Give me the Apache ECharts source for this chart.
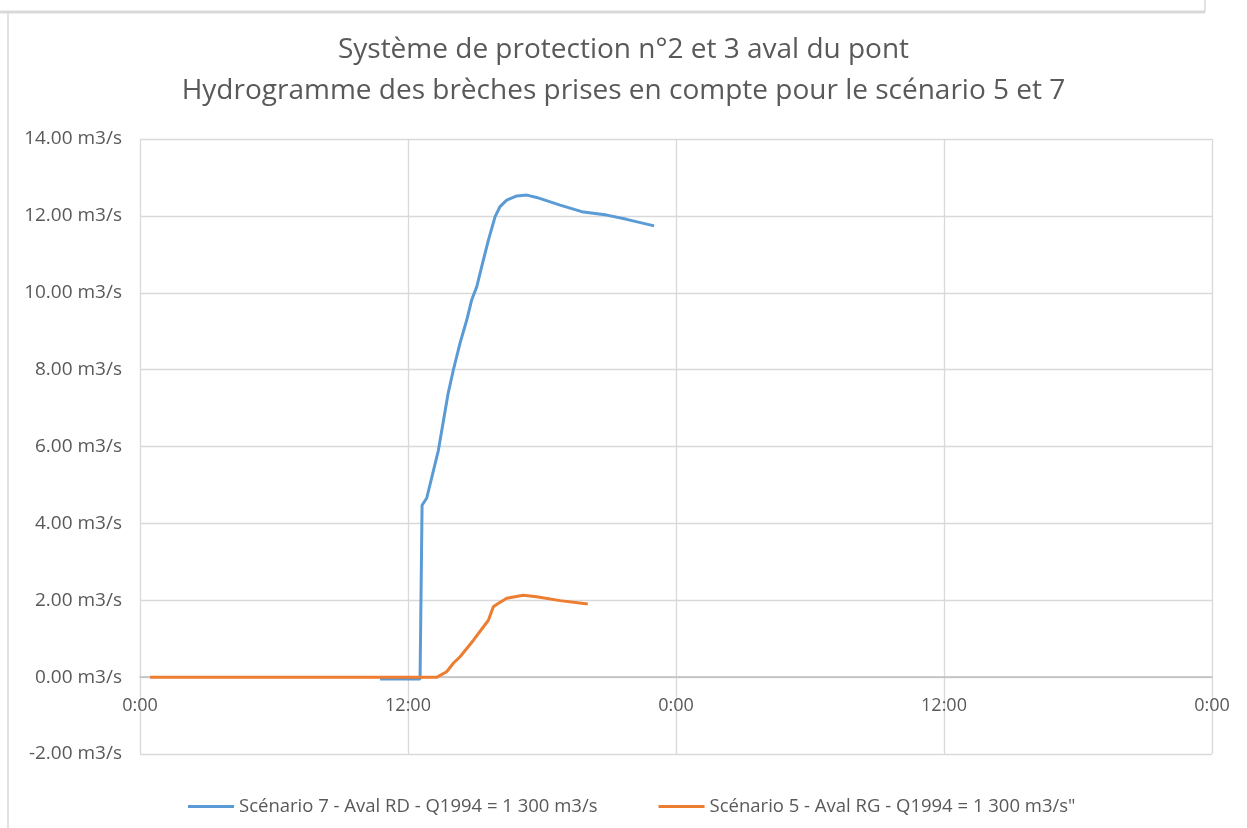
<!DOCTYPE html>
<html>
<head>
<meta charset="utf-8">
<script src="https://cdn.jsdelivr.net/npm/echarts@6/dist/echarts.min.js"></script>
<style>
  html, body { margin: 0; padding: 0; background: #fff; }
  #myChart { width: 1247px; height: 828px; }
</style>
</head>
<body>
<div id="myChart"></div>
<script>
// heures depuis 0:00 et débits (m3/s)
var blueHours = [10.75, 12.54, 12.63, 12.84, 13.36, 13.8, 14.03, 14.33, 14.63, 14.85, 15.08, 15.3, 15.6, 15.9, 16.12, 16.42, 16.87, 17.32, 17.76, 18.81, 19.78, 20.9, 21.79, 23.02];
var blueFlow = [-0.05, -0.05, 4.47, 4.66, 5.9, 7.39, 7.99, 8.69, 9.29, 9.81, 10.16, 10.68, 11.37, 11.98, 12.24, 12.41, 12.52, 12.54, 12.48, 12.28, 12.11, 12.02, 11.91, 11.74];

var orangeHours = [0.45, 13.3, 13.73, 14.03, 14.33, 14.93, 15.6, 15.82, 16.0, 16.42, 17.16, 17.76, 18.81, 20.05];
var orangeFlow = [0, 0, 0.14, 0.36, 0.53, 0.96, 1.48, 1.83, 1.9, 2.05, 2.13, 2.09, 1.99, 1.9];

var seriesNames = ['Scénario 7 - Aval RD - Q1994 = 1 300 m3/s', 'Scénario 5 - Aval RG - Q1994 = 1 300 m3/s"'];
var titleLines = ['Système de protection n°2 et 3 aval du pont', 'Hydrogramme des brèches prises en compte pour le scénario 5 et 7'];

function pairs(xs, ys) {
  return xs.map(function (x, i) { return [x, ys[i]]; });
}

var font = '"Open Sans", "Noto Sans", sans-serif';
var myChart = echarts.init(document.getElementById('myChart'));

myChart.setOption({
  backgroundColor: '#fff',
  color: ['#5B9BD5', '#ED7D31'],
  title: {
    text: titleLines.join('\n'),
    left: 'center',
    top: 30,
    padding: 0,
    textStyle: { fontFamily: font, fontSize: 28, fontWeight: 'normal', color: '#595959', lineHeight: 41 }
  },
  graphic: [
    { type: 'line', shape: { x1: 0, y1: 12, x2: 1205, y2: 12 }, style: { stroke: '#d9d9d9', lineWidth: 3 } },
    { type: 'line', shape: { x1: 8, y1: 12, x2: 8, y2: 828 }, style: { stroke: '#d9d9d9', lineWidth: 1.5 } },
    { type: 'line', shape: { x1: 1205, y1: 0, x2: 1205, y2: 12 }, style: { stroke: '#d9d9d9', lineWidth: 1.5 } }
  ],
  legend: {
    bottom: 12,
    left: 188,
    padding: 0,
    icon: 'rect',
    itemWidth: 46,
    itemHeight: 3,
    itemGap: 61,
    textStyle: { fontFamily: font, fontSize: 18.5, color: '#595959' },
    data: seriesNames
  },
  grid: { left: 140, right: 35, top: 139, bottom: 74 },
  xAxis: {
    type: 'value',
    min: 0,
    max: 48,
    interval: 12,
    axisLine: { onZero: false, lineStyle: { color: '#bfbfbf', width: 1.5 } },
    axisTick: { show: false },
    axisLabel: {
      fontFamily: font, fontSize: 18, color: '#595959', margin: 20,
      formatter: function (v) { return (v % 24) + ':00'; }
    },
    splitLine: { show: true, lineStyle: { color: '#d9d9d9', width: 1.3 } }
  },
  yAxis: {
    type: 'value',
    min: -2,
    max: 14,
    interval: 2,
    axisLine: { show: false, onZero: false },
    axisTick: { show: false },
    axisLabel: {
      fontFamily: font, fontSize: 19, color: '#595959', margin: 18,
      formatter: function (v) { return v.toFixed(2) + ' m3/s'; }
    },
    splitLine: { lineStyle: { color: '#d9d9d9', width: 1.3 } }
  },
  series: [
    {
      name: seriesNames[0],
      type: 'line',
      showSymbol: false,
      lineStyle: { width: 3 },
      data: pairs(blueHours, blueFlow)
    },
    {
      name: seriesNames[1],
      type: 'line',
      showSymbol: false,
      lineStyle: { width: 3 },
      data: pairs(orangeHours, orangeFlow)
    }
  ]
});

// l'axe des temps croise l'axe des débits à 0 (comme dans Excel)
var yZero = myChart.convertToPixel({ yAxisIndex: 0 }, 0);
var yMin = myChart.convertToPixel({ yAxisIndex: 0 }, -2);
myChart.setOption({ xAxis: { offset: yZero - yMin } });
</script>
</body>
</html>
